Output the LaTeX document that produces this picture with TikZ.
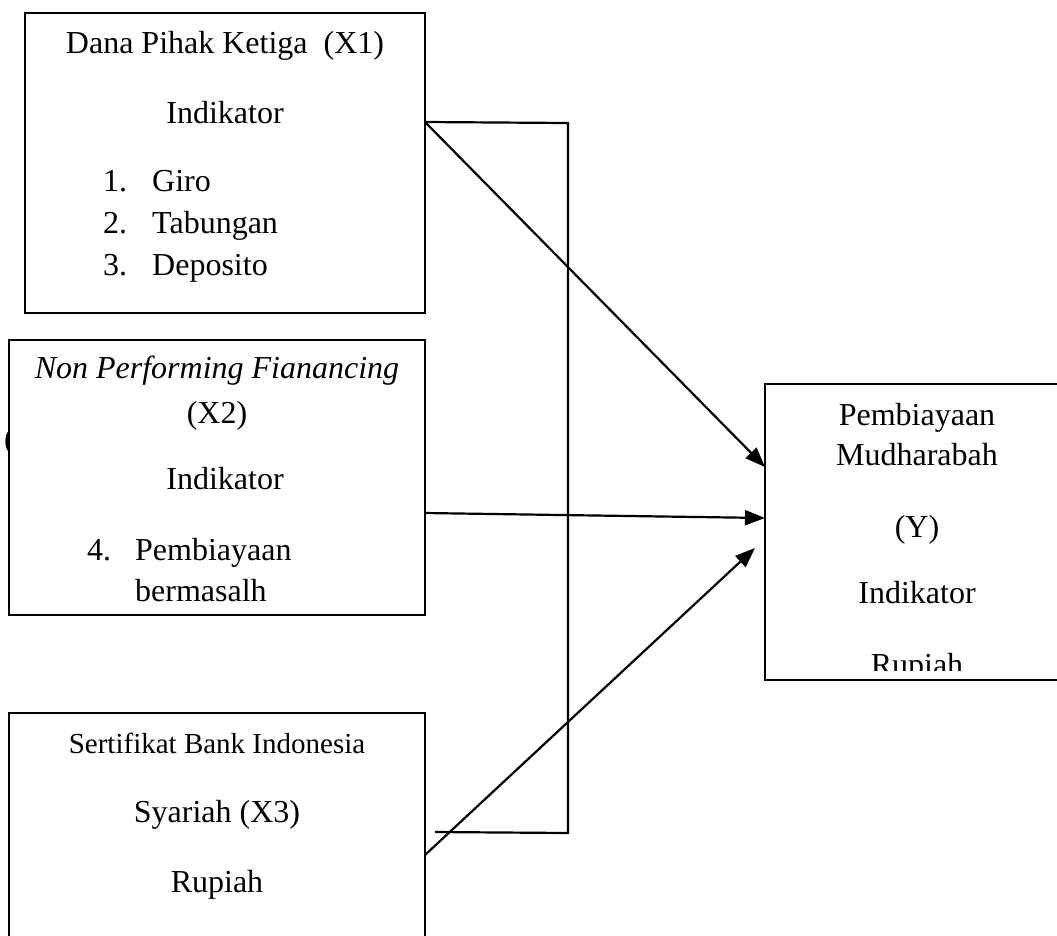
\documentclass[tikz,border=0pt]{standalone}
\usepackage{fontspec}
\setmainfont{Liberation Serif}
\usetikzlibrary{arrows.meta}
\begin{document}
\begin{tikzpicture}[x=1pt,y=-1pt,
  box/.style={draw=black,line width=2pt,fill=white,inner sep=0pt,outer sep=0pt,anchor=north west},
  lbl/.style={anchor=base,inner sep=0pt,font=\fontsize{32}{38}\selectfont},
  lbll/.style={anchor=base west,inner sep=0pt,font=\fontsize{32}{38}\selectfont},
  conn/.style={draw=black,line width=2.2pt},
  arr/.style={conn,-{Triangle[length=20pt,width=15pt]}}]
\useasboundingbox (0,0) rectangle (1057,935);
% stray parenthesis partly hidden behind the X2 box
\node[lbll] (paren) at (4,449) {(};
% boxes
\node[box,minimum width=400pt,minimum height=300pt] (x1) at (25,13) {};
\node[box,minimum width=416pt,minimum height=275pt] (x2) at (9,340) {};
\node[box,minimum width=416pt,minimum height=240pt] (x3) at (9,713) {};
\node[box,minimum width=300pt,minimum height=296pt] (yy) at (765,384) {};
% texts X1
\node[lbl] (t1a) at (225,53) {Dana Pihak Ketiga\ \ (X1)};
\node[lbl] (t1b) at (225,123) {Indikator};
\node[lbll] (n1) at (103,191) {1.};
\node[lbll] (i1) at (152,191) {Giro};
\node[lbll] (n2) at (103,233) {2.};
\node[lbll] (i2) at (152,233) {Tabungan};
\node[lbll] (n3) at (103,275) {3.};
\node[lbll] (i3) at (152,275) {Deposito};
% texts X2
\node[lbl,font=\fontsize{32}{38}\selectfont\itshape] (t2a) at (217,378) {Non Performing Fianancing};
\node[lbl] (t2b) at (217,423) {(X2)};
\node[lbl] (t2c) at (225,489) {Indikator};
\node[lbll] (n4) at (87,560) {4.};
\node[lbll] (i4a) at (135,560) {Pembiayaan};
\node[lbll] (i4b) at (135,601) {bermasalh};
% texts X3
\node[lbl,font=\fontsize{29}{35}\selectfont] (t3a) at (217,753) {Sertifikat Bank Indonesia};
\node[lbl] (t3b) at (217,822) {Syariah (X3)};
\node[lbl] (t3c) at (217,892) {Rupiah};
% texts Y
\node[lbl] (ty1) at (917,425) {Pembiayaan};
\node[lbl] (ty2) at (917,465) {Mudharabah};
\node[lbl] (ty3) at (917,537) {(Y)};
\node[lbl] (ty4) at (917,603) {Indikator};
\begin{scope}
\clip (765,384) rectangle (1070,670);
\node[lbl] (ty5) at (917,675) {Rupiah};
\end{scope}
% connectors
\coordinate (c1) at (568,123);
\coordinate (c2) at (568,833);
\coordinate (c3) at (435,832);
\coordinate (a3) at ([xshift=-10pt,yshift=-16pt]yy.west);
\draw[conn] ([yshift=41pt]x1.east) -- (c1) -- (c2) -- (c3);
\draw[arr] ([yshift=41pt]x1.east) -- ([yshift=65pt]yy.west);
\draw[arr] ([yshift=-35.5pt]x2.east) -- ([yshift=14pt]yy.west);
\draw[arr] ([yshift=-22pt]x3.east) -- (a3);
\end{tikzpicture}
\end{document}
